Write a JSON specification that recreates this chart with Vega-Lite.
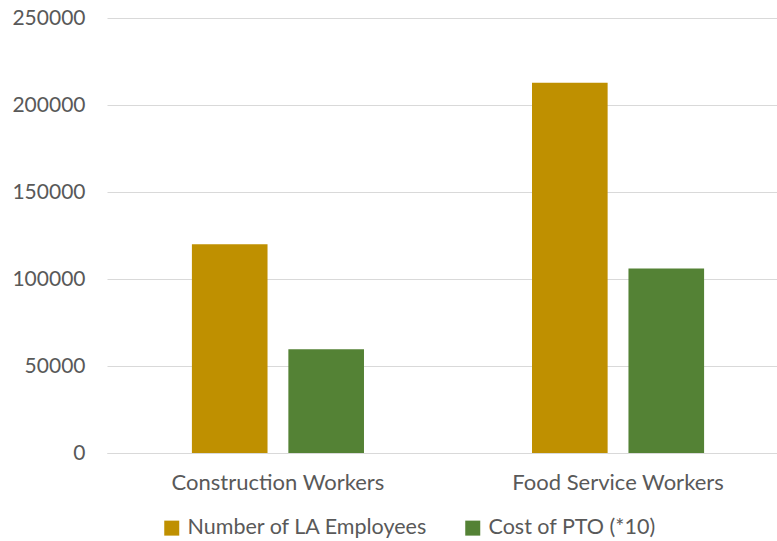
{
  "$schema": "https://vega.github.io/schema/vega-lite/v6.json",
  "autosize": "none",
  "width": 670,
  "height": 435,
  "padding": {"left": 107, "top": 18, "right": 0, "bottom": 88},
  "background": "white",
  "data": {"values": [
    {"category": "Construction Workers", "series": "Number of LA Employees", "value": 120000},
    {"category": "Construction Workers", "series": "Cost of PTO (*10)", "value": 59600},
    {"category": "Food Service Workers", "series": "Number of LA Employees", "value": 212800},
    {"category": "Food Service Workers", "series": "Cost of PTO (*10)", "value": 106100}
  ]},
  "mark": {"type": "bar"},
  "encoding": {
    "x": {
      "field": "category", "type": "nominal",
      "sort": ["Construction Workers", "Food Service Workers"],
      "scale": {"paddingInner": 0.494, "paddingOuter": 0.232, "align": 0.538},
      "axis": {"title": null, "labelAngle": 0, "ticks": false, "domain": true, "domainColor": "#d9d9d9", "domainWidth": 1,
               "labelFont": "Lato", "labelFontSize": 22, "labelColor": "#595959", "labelPadding": 19, "labelLimit": 0}
    },
    "xOffset": {
      "field": "series", "type": "nominal",
      "sort": ["Number of LA Employees", "Cost of PTO (*10)"],
      "scale": {"paddingInner": 0.216, "paddingOuter": 0}
    },
    "y": {
      "field": "value", "type": "quantitative",
      "scale": {"domain": [0, 250000], "nice": false},
      "axis": {"title": null, "values": [0, 50000, 100000, 150000, 200000, 250000], "format": "d",
               "domain": false, "ticks": false, "grid": true, "gridColor": "#d9d9d9", "gridWidth": 1,
               "labelFont": "Lato", "labelFontSize": 21, "labelColor": "#595959", "labelPadding": 22}
    },
    "color": {
      "field": "series", "type": "nominal",
      "sort": ["Number of LA Employees", "Cost of PTO (*10)"],
      "scale": {"domain": ["Number of LA Employees", "Cost of PTO (*10)"], "range": ["#BF9000", "#548235"]},
      "legend": {"title": null, "orient": "none", "legendX": 54, "legendY": 499, "direction": "horizontal",
                 "symbolType": "square", "symbolSize": 225, "symbolStrokeWidth": 0, "symbolOpacity": 1,
                 "labelFont": "Lato", "labelFontSize": 21.5, "labelColor": "#595959", "labelOffset": 5, "labelLimit": 0, "columnPadding": 34}
    }
  },
  "config": {"view": {"stroke": null}}
}
